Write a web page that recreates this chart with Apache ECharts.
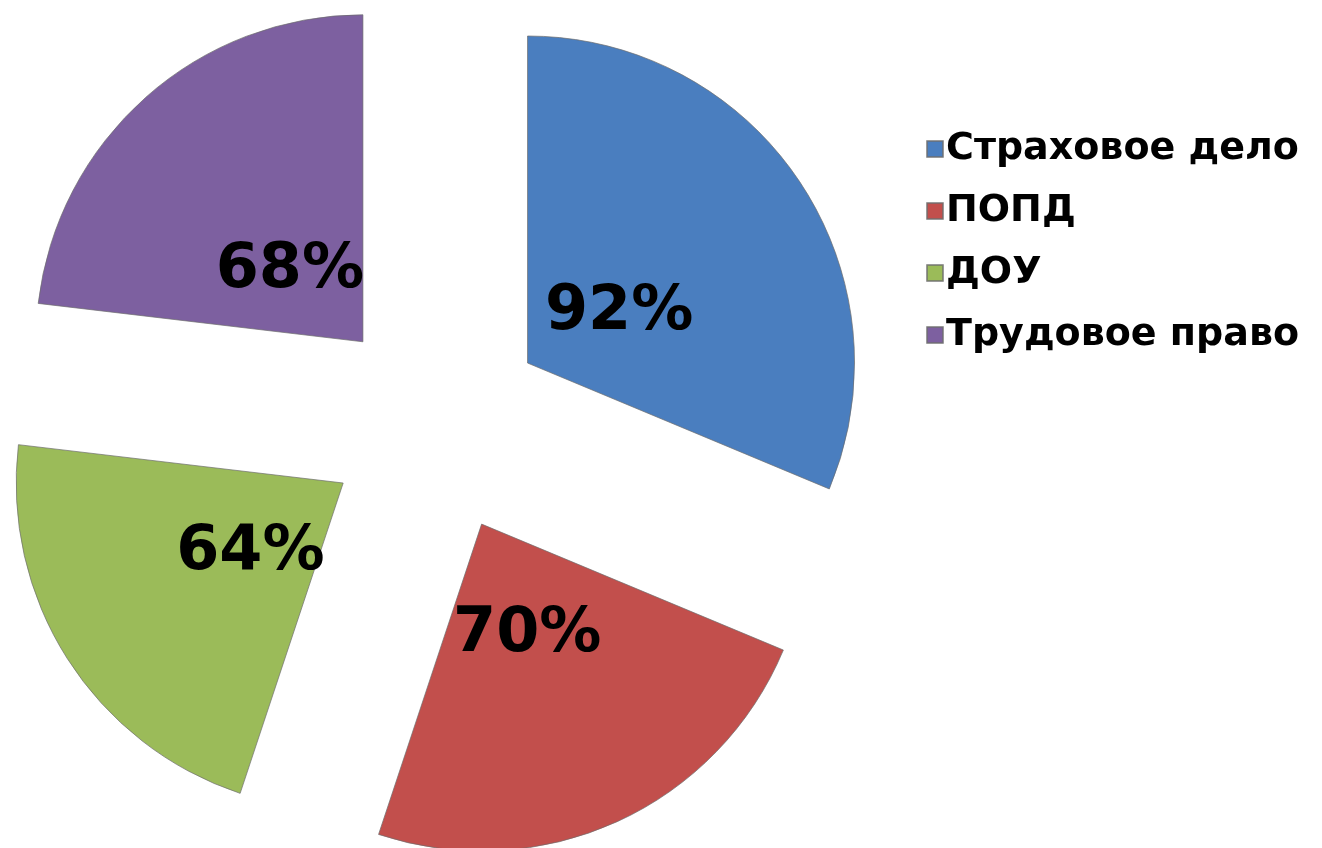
<!DOCTYPE html>
<html>
<head>
<meta charset="utf-8">
<script src="https://cdn.jsdelivr.net/npm/echarts@6/dist/echarts.min.js"></script>
<style>
html,body{margin:0;padding:0;background:#fff;}
#chart{width:1322px;height:848px;}
</style>
</head>
<body>
<div id="chart"></div>
<script>
const categories = ['Страховое дело', 'ПОПД', 'ДОУ', 'Трудовое право'];
const values = [92, 70, 64, 68];
const labels = ['92%', '70%', '64%', '68%'];
const colors = ['#4A7EBF', '#C24F4C', '#9BBB59', '#7D60A0'];

const chart = echarts.init(document.getElementById('chart'));

function makeData(withColor) {
  return categories.map((name, i) => ({
    name: name,
    value: values[i],
    selected: true,
    itemStyle: withColor ? { color: colors[i] } : { color: 'rgba(0,0,0,0)', borderWidth: 0 },
    label: { formatter: '{v|' + labels[i] + '}' }
  }));
}

const option = {
  animation: false,
  backgroundColor: '#ffffff',
  legend: {
    orient: 'vertical',
    left: 921,
    top: 125,
    itemWidth: 16,
    itemHeight: 16,
    itemGap: 24,
    icon: 'rect',
    selectedMode: false,
    data: categories.map((n, i) => ({ name: n, itemStyle: { color: colors[i] } })),
    textStyle: {
      fontFamily: 'DejaVu Sans',
      fontWeight: 'bold',
      fontSize: 38,
      color: '#000',
      padding: [0, 0, 0, -2]
    }
  },
  series: [
    {
      type: 'pie',
      center: [436, 424],
      radius: [0, 327],
      startAngle: 90,
      clockwise: true,
      selectedMode: 'multiple',
      selectedOffset: 110,
      avoidLabelOverlap: false,
      label: { show: false },
      labelLine: { show: false },
      emphasis: { disabled: true },
      itemStyle: { borderColor: 'rgba(110,110,110,0.7)', borderWidth: 1 },
      data: makeData(true)
    },
    {
      type: 'pie',
      center: [436, 424],
      radius: [0, 214],
      startAngle: 90,
      clockwise: true,
      selectedMode: 'multiple',
      selectedOffset: 110,
      avoidLabelOverlap: false,
      minShowLabelAngle: 0,
      silent: true,
      legendHoverLink: false,
      emphasis: { disabled: true },
      labelLine: { show: false },
      labelLayout: { hideOverlap: false, moveOverlap: null },
      label: {
        show: true,
        position: 'inside',
        rich: {
          v: {
            fontFamily: 'DejaVu Sans',
            fontWeight: 'bold',
            fontSize: 62,
            color: '#000',
            padding: [22, 0, 0, 0]
          }
        }
      },
      data: makeData(false)
    }
  ]
};
chart.setOption(option);
</script>
</body>
</html>
